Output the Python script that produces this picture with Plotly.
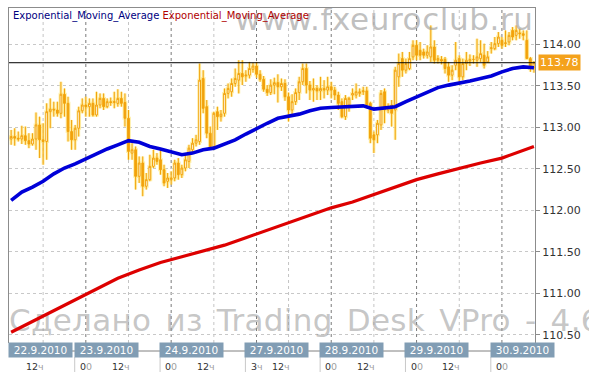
import plotly.graph_objects as go

# ---------------- data ----------------
day_labels = ["22.9.2010", "23.9.2010", "24.9.2010", "27.9.2010",
              "28.9.2010", "29.9.2010", "30.9.2010"]
day_first_hour = [3, 0, 0, 3, 0, 0, 0]
day_counts = [21, 24, 24, 21, 24, 24, 10]

opens = [112.86, 112.89, 112.87, 112.86, 112.90, 112.84, 112.80, 112.86, 113.03, 112.85,
         112.83, 113.19, 113.22, 113.21, 113.17, 113.40, 113.29, 112.95, 112.85, 112.99,
         113.20, 113.27, 113.25, 113.29, 113.15, 113.27, 113.35, 113.25, 113.31, 113.30,
         113.29, 113.35, 113.30, 113.11, 112.69, 112.73, 112.41, 112.57, 112.29, 112.37,
         112.53, 112.63, 112.61, 112.49, 112.35, 112.37, 112.39, 112.57, 112.43, 112.51,
         112.59, 112.73, 112.81, 112.83, 113.59, 113.25, 112.93, 112.77, 113.19, 113.13,
         113.17, 113.41, 113.43, 113.53, 113.57, 113.65, 113.62, 113.63, 113.70, 113.74,
         113.64, 113.58, 113.46, 113.42, 113.51, 113.54, 113.49, 113.53, 113.37, 113.21,
         113.31, 113.42, 113.55, 113.71, 113.51, 113.45, 113.47, 113.44, 113.47, 113.45,
         113.49, 113.45, 113.39, 113.31, 113.13, 113.27, 113.39, 113.39, 113.41, 113.43,
         113.44, 113.29, 112.91, 112.91, 113.03, 113.43, 113.21, 113.27, 113.21, 113.61,
         113.83, 113.69, 113.71, 113.85, 113.99, 113.93, 113.91, 113.87, 113.85, 113.97,
         113.81, 113.82, 113.82, 113.73, 113.63, 113.75, 113.83, 113.61, 113.77, 113.80,
         113.82, 113.81, 113.83, 113.87, 113.79, 113.95, 113.95, 114.01, 114.05, 114.01,
         114.03, 114.17, 114.11, 114.14, 114.13, 114.05, 113.83, 113.72]
highs = [112.97, 112.99, 112.95, 113.02, 113.01, 112.93, 112.93, 113.18, 113.13, 113.05,
         113.29, 113.35, 113.31, 113.31, 113.55, 113.47, 113.37, 113.09, 113.03, 113.25,
         113.35, 113.37, 113.35, 113.35, 113.43, 113.41, 113.41, 113.35, 113.36, 113.43,
         113.46, 113.43, 113.41, 113.21, 112.81, 112.77, 112.65, 112.65, 112.45, 112.67,
         112.73, 112.69, 112.73, 112.55, 112.45, 112.47, 112.61, 112.63, 112.55, 112.67,
         112.79, 112.87, 112.91, 113.77, 113.69, 113.33, 113.01, 113.19, 113.25, 113.21,
         113.47, 113.53, 113.59, 113.71, 113.81, 113.81, 113.69, 113.79, 113.78, 113.79,
         113.69, 113.62, 113.51, 113.58, 113.60, 113.64, 113.59, 113.58, 113.42, 113.40,
         113.47, 113.61, 113.77, 113.77, 113.56, 113.59, 113.51, 113.61, 113.57, 113.61,
         113.55, 113.49, 113.43, 113.35, 113.39, 113.37, 113.47, 113.53, 113.47, 113.49,
         113.49, 113.31, 112.95, 113.09, 113.45, 113.47, 113.29, 113.33, 113.73, 113.89,
         113.91, 113.83, 113.91, 114.05, 114.05, 114.03, 113.95, 113.99, 114.23, 114.05,
         113.87, 113.86, 113.85, 113.79, 113.75, 114.03, 113.87, 113.83, 113.91, 113.88,
         113.87, 114.07, 114.05, 114.01, 113.92, 114.03, 114.09, 114.15, 114.09, 114.17,
         114.15, 114.21, 114.23, 114.19, 114.17, 114.17, 113.85, 113.80]
lows = [112.79, 112.78, 112.83, 112.80, 112.79, 112.75, 112.78, 112.73, 112.63, 112.55,
        112.61, 112.99, 113.13, 113.13, 113.11, 113.13, 112.83, 112.73, 112.73, 112.89,
        113.17, 113.13, 113.13, 113.13, 113.13, 113.23, 113.21, 113.23, 113.26, 113.23,
        113.25, 113.25, 113.01, 112.61, 112.61, 112.25, 112.33, 112.17, 112.25, 112.35,
        112.51, 112.55, 112.43, 112.29, 112.27, 112.31, 112.35, 112.37, 112.39, 112.47,
        112.51, 112.69, 112.77, 112.79, 113.17, 112.87, 112.73, 112.75, 112.97, 113.07,
        113.13, 113.35, 113.37, 113.49, 113.41, 113.51, 113.55, 113.59, 113.66, 113.60,
        113.55, 113.43, 113.38, 113.39, 113.40, 113.30, 113.44, 113.32, 113.07, 113.15,
        113.27, 113.33, 113.51, 113.41, 113.33, 113.31, 113.33, 113.33, 113.35, 113.39,
        113.35, 113.33, 113.21, 113.11, 113.09, 113.19, 113.33, 113.35, 113.37, 113.39,
        113.23, 112.81, 112.69, 112.81, 112.97, 113.05, 113.17, 113.01, 112.85, 113.49,
        113.61, 113.65, 113.69, 113.81, 113.81, 113.81, 113.83, 113.83, 113.79, 113.77,
        113.77, 113.76, 113.65, 113.55, 113.57, 113.69, 113.51, 113.57, 113.69, 113.74,
        113.77, 113.73, 113.79, 113.71, 113.78, 113.89, 113.93, 113.97, 113.95, 113.97,
        113.99, 114.05, 114.05, 114.07, 114.05, 113.83, 113.67, 113.66]
closes = [112.89, 112.87, 112.86, 112.90, 112.84, 112.80, 112.86, 113.03, 112.85, 112.83,
          113.19, 113.22, 113.21, 113.17, 113.40, 113.29, 112.95, 112.85, 112.99, 113.20,
          113.27, 113.25, 113.29, 113.15, 113.27, 113.35, 113.25, 113.31, 113.30, 113.31,
          113.35, 113.29, 113.11, 112.71, 112.73, 112.41, 112.57, 112.29, 112.37, 112.53,
          112.63, 112.59, 112.49, 112.33, 112.39, 112.39, 112.57, 112.43, 112.51, 112.61,
          112.75, 112.81, 112.85, 113.57, 113.23, 112.93, 112.77, 113.17, 113.13, 113.16,
          113.41, 113.47, 113.53, 113.59, 113.65, 113.61, 113.63, 113.71, 113.74, 113.64,
          113.58, 113.46, 113.42, 113.51, 113.54, 113.49, 113.53, 113.37, 113.21, 113.31,
          113.42, 113.55, 113.71, 113.51, 113.45, 113.47, 113.44, 113.47, 113.45, 113.49,
          113.45, 113.39, 113.29, 113.13, 113.35, 113.35, 113.41, 113.43, 113.43, 113.44,
          113.27, 112.87, 112.85, 113.05, 113.41, 113.21, 113.25, 113.17, 113.69, 113.77,
          113.69, 113.77, 113.83, 113.99, 113.87, 113.87, 113.87, 113.91, 113.97, 113.81,
          113.83, 113.80, 113.71, 113.63, 113.69, 113.81, 113.61, 113.77, 113.81, 113.82,
          113.82, 113.85, 113.89, 113.75, 113.85, 113.96, 114.01, 114.09, 113.99, 114.02,
          114.11, 114.09, 114.17, 114.13, 114.11, 113.83, 113.71, 113.78]

ema_fast_idx = list(range(0, 147, 3)) + [147]
ema_fast = [112.12, 112.22, 112.28, 112.35, 112.44, 112.51, 112.56, 112.62, 112.69, 112.74,
            112.79, 112.84, 112.82, 112.77, 112.74, 112.70, 112.67, 112.69, 112.73, 112.75,
            112.80, 112.85, 112.92, 112.99, 113.05, 113.11, 113.13, 113.16, 113.20, 113.23,
            113.24, 113.25, 113.25, 113.26, 113.22, 113.23, 113.25, 113.31, 113.37, 113.43,
            113.48, 113.51, 113.53, 113.56, 113.59, 113.62, 113.67, 113.71, 113.73, 113.72]

ema_slow_idx = list(range(0, 147, 6)) + [147]
ema_slow = [110.53, 110.66, 110.79, 110.91, 111.04, 111.18, 111.28, 111.37, 111.44, 111.51,
            111.58, 111.67, 111.76, 111.86, 111.95, 112.03, 112.10, 112.19, 112.27, 112.37,
            112.44, 112.51, 112.57, 112.63, 112.72, 112.77]

y_ticks = [110.5, 111.0, 111.5, 112.0, 112.5, 113.0, 113.5, 114.0]
legend_names = ["Exponential_Moving_Average", "Exponential_Moving_Average"]
watermark_top = "www.fxeuroclub.ru"
watermark_bottom = "Сделано из Trading Desk VPro - 4.6"

# ---------------- figure ----------------
FONT = "DejaVu Sans"
ORANGE = "#f2a20c"
x_idx = list(range(len(closes)))
X_RANGE = [-0.6, 147.3]
Y_RANGE = [110.40, 114.44]

fig = go.Figure()

# watermarks (behind data)
fig.add_trace(go.Scatter(x=[146.9], y=[114.27], mode="text",
                         text=[f"<span style='letter-spacing:0.6px'>{watermark_top}</span>"],
                         textposition="middle left", cliponaxis=False, hoverinfo="skip",
                         textfont=dict(family=FONT, size=31, color="rgba(150,150,150,0.6)"),
                         showlegend=False))
fig.add_trace(go.Scatter(x=[X_RANGE[0]], y=[110.64], mode="text",
                         text=[f"<span style='letter-spacing:0.3px;word-spacing:4px'>{watermark_bottom}</span>"],
                         textposition="middle right", cliponaxis=False, hoverinfo="skip",
                         textfont=dict(family=FONT, size=31, color="rgba(150,150,150,0.55)"),
                         showlegend=False))

# glow under candles
fig.add_trace(go.Candlestick(x=x_idx, open=opens, high=highs, low=lows, close=closes,
                             increasing=dict(line=dict(color="rgba(255,232,130,0.7)", width=3),
                                             fillcolor="rgba(255,232,130,0.7)"),
                             decreasing=dict(line=dict(color="rgba(255,232,130,0.7)", width=3),
                                             fillcolor="rgba(255,232,130,0.7)"),
                             hoverinfo="skip", showlegend=False))
fig.add_trace(go.Candlestick(x=x_idx, open=opens, high=highs, low=lows, close=closes,
                             increasing=dict(line=dict(color=ORANGE, width=1), fillcolor="white"),
                             decreasing=dict(line=dict(color=ORANGE, width=1), fillcolor=ORANGE),
                             showlegend=False))

fig.add_trace(go.Scatter(x=ema_slow_idx, y=ema_slow, mode="lines",
                         line=dict(color="#dd0000", width=3.2), showlegend=False, hoverinfo="skip"))
fig.add_trace(go.Scatter(x=ema_fast_idx, y=ema_fast, mode="lines",
                         line=dict(color="#0000d8", width=3.6), showlegend=False, hoverinfo="skip"))

# day structure
starts = []
s = 0
for c in day_counts:
    starts.append(s)
    s += c

shapes = []
annotations = []
PX_PER_IDX = 528 / (X_RANGE[1] - X_RANGE[0])
box_half = 31.5 / PX_PER_IDX

def hour_text(h):
    if h == 0:
        return "0<span style='color:#a0a0a0'>0</span>"
    return f"{h}<span style='color:#a0a0a0'>ч</span>"

for d, (lab, fh, cnt, st) in enumerate(zip(day_labels, day_first_hour, day_counts, starts)):
    if d > 0:
        shapes.append(dict(type="line", xref="x", yref="paper", x0=st, x1=st, y0=0, y1=1,
                           layer="below", line=dict(color="#7a7a7a", width=1, dash="3px,3px")))
        annotations.append(dict(x=st, y=-0.0716, xref="x", yref="paper", text=hour_text(fh),
                                showarrow=False, xanchor="center", yanchor="middle",
                                font=dict(family=FONT, size=9.5, color="#333333")))
    noon = 12 - fh
    if noon < cnt:
        ni = st + noon
        shapes.append(dict(type="line", xref="x", yref="paper", x0=ni, x1=ni, y0=0, y1=1,
                           layer="below", line=dict(color="#c4c4c4", width=1, dash="3px,3px")))
        annotations.append(dict(x=ni - 2.2, y=-0.0716, xref="x", yref="paper", text=hour_text(12),
                                showarrow=False, xanchor="center", yanchor="middle",
                                font=dict(family=FONT, size=9.5, color="#333333")))
    center = max(st + 5.7, X_RANGE[0] + box_half + 0.05)
    annotations.append(dict(x=center, y=-0.0209, xref="x", yref="paper", text=lab,
                            showarrow=False, xanchor="center", yanchor="middle",
                            width=63, height=14, borderpad=0, bgcolor="#819db4",
                            font=dict(family=FONT, size=10.5, color="white")))
    if d > 0:
        sx = center - box_half
        shapes.append(dict(type="line", xref="x", yref="paper", x0=sx, x1=sx,
                           y0=-0.042, y1=-0.0866, line=dict(color="#c8c8c8", width=1)))

# baseline through the date row
shapes.append(dict(type="line", xref="paper", yref="paper", x0=0, x1=1.035, y0=-0.0239, y1=-0.0239,
                   line=dict(color="#808080", width=1)))
# last price line
shapes.append(dict(type="line", xref="paper", yref="y", x0=0, x1=1, y0=closes[-1], y1=closes[-1],
                   line=dict(color="black", width=1)))

# legend texts
annotations.append(dict(x=0.004, y=0.976, xref="paper", yref="paper", showarrow=False,
                        xanchor="left", yanchor="middle",
                        text=(f"<span style='color:#00007f'>{legend_names[0]}</span> "
                              f"<span style='color:#b00000'>{legend_names[1]}</span>"),
                        font=dict(family=FONT, size=10)))
# last price tag
annotations.append(dict(x=1, y=closes[-1], xref="paper", yref="y", showarrow=False,
                        xanchor="left", yanchor="middle", xshift=3, text=f"{closes[-1]:.2f}",
                        bgcolor="#f4a21c", borderpad=1,
                        font=dict(family=FONT, size=11, color="white")))

fig.update_layout(
    width=589, height=380,
    margin=dict(l=8, r=53, t=8, b=37),
    paper_bgcolor="white", plot_bgcolor="white",
    showlegend=False,
    shapes=shapes, annotations=annotations,
    xaxis=dict(range=X_RANGE, showticklabels=False, showgrid=False, zeroline=False,
               rangeslider=dict(visible=False), side="top", showline=True,
               linecolor="#8c8c8c", linewidth=1, ticks=""),
    yaxis=dict(range=Y_RANGE, side="right", tickvals=y_ticks, tickformat=".2f",
               showgrid=True, gridcolor="#c8c8c8", griddash="3px,3px", zeroline=False,
               showline=True, mirror=True, linecolor="#8c8c8c", linewidth=1,
               ticks="outside", ticklen=4, tickcolor="#8c8c8c",
               tickfont=dict(family=FONT, size=11, color="#333333")),
)

fig.write_html("out.html", config={"displayModeBar": False},
               post_script="document.body.style.margin='0px';document.body.style.overflow='hidden';")
